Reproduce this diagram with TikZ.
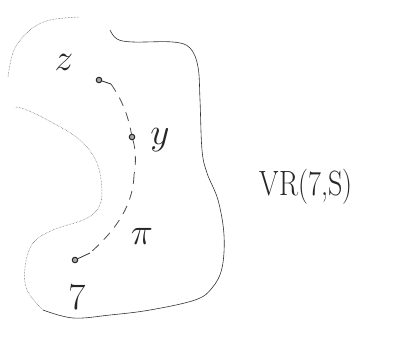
\documentclass[tikz,border=0pt]{standalone}
\usetikzlibrary{calc}
\tikzset{
  blobdot/.style={draw=black!70, line width=0.5pt, densely dotted},
  blobsolid/.style={draw=black!80, line width=0.6pt},
  pt/.style={circle, draw=black!85, fill=black!35, line width=1pt, inner sep=0pt, minimum size=5.5pt},
  pathseg/.style={draw=black!70, line width=0.8pt, dash pattern=on 9pt off 7pt},
  tail/.style={draw=black!80, line width=0.8pt},
  lbl/.style={text=black!85, inner sep=0pt, font=\fontsize{24}{26}\selectfont},
  biglbl/.style={text=black!85, inner sep=0pt, font=\fontsize{26}{28}\selectfont}
}
\newcommand{\biglab}[1]{\scalebox{1.5}{$#1$}}
\begin{document}
\begin{tikzpicture}[x=1pt,y=-1pt]
\useasboundingbox (0,0) rectangle (414,338);
% outline: solid right part
\draw[blobsolid] plot[smooth, tension=0.6] coordinates {
  (110,30) (117,39) (133,42) (173,42) (190,48) (198,67) (200,100) (202,150)
  (207,173) (218,200) (224,235) (222,268) (212,288) (195,300) (150,310)
  (110,315) (73,318) (43,310) };
% outline: dotted left part
\draw[blobdot] plot[smooth, tension=0.6] coordinates {
  (43,310) (27,290) (25,267) (33,243) (53,230) (83,220) (97,210) (102,193)
  (97,163) (80,140) (53,123) (27,110) (15,107) };
\draw[blobdot] plot[smooth, tension=0.6] coordinates {
  (8,77) (14,50) (30,30) (50,20) (80,17) };
% points
\node[pt] (z) at (99,80) {};
\node[pt] (y) at (132,137) {};
\node[pt] (x) at (75,260) {};
\coordinate (zt) at (111,84);
\coordinate (xt) at (90,253);
\coordinate (m) at (134,175);
% path pi
\draw[tail] (z) -- (zt);
\draw[tail] (x) -- (xt);
\draw[pathseg] (zt) .. controls (122,100) and (128,115) .. (y);
\draw[pathseg] (y) .. controls (136,150) and (136,165) .. (m);
\draw[pathseg] (m) .. controls (133,210) and (110,235) .. (xt);
% labels
\node[lbl] (lz) at (64,62) {\biglab{z}};
\node[lbl] (ly) at (160,140) {\biglab{y}};
\node[lbl] (lpi) at (142,236) {\biglab{\pi}};
\node[lbl] (lx) at (77,297) {\scalebox{1.5}{$7$}};
\node[biglbl] (vr) at (306,187) {\scalebox{1.08}[1.35]{VR(7,S)}};
\end{tikzpicture}
\end{document}
